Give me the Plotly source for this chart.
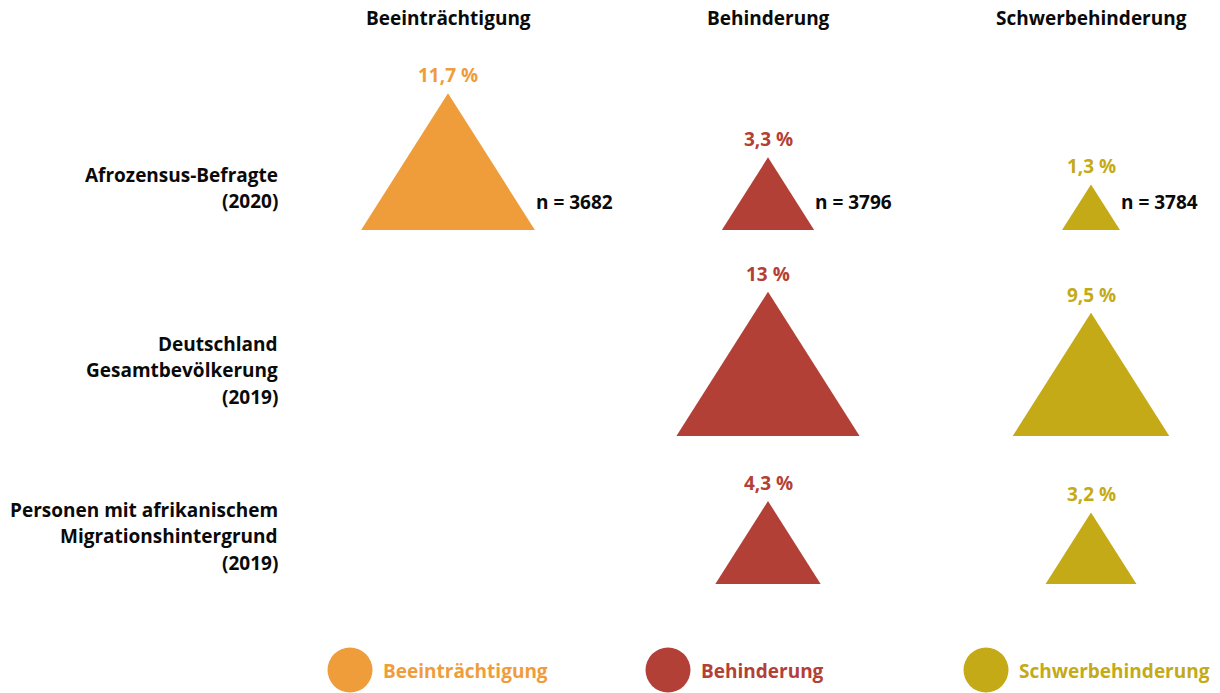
import math
import plotly.graph_objects as go

# ---- data ----
categories = ["Beeinträchtigung", "Behinderung", "Schwerbehinderung"]
groups = [
    ["Afrozensus-Befragte", "(2020)"],
    ["Deutschland", "Gesamtbevölkerung", "(2019)"],
    ["Personen mit afrikanischem", "Migrationshintergrund", "(2019)"],
]
values = [
    [11.7, 3.3, 1.3],
    [None, 13.0, 9.5],
    [None, 4.3, 3.2],
]
value_labels = [
    ["11,7 %", "3,3 %", "1,3 %"],
    [None, "13 %", "9,5 %"],
    [None, "4,3 %", "3,2 %"],
]
sample_sizes = ["n = 3682", "n = 3796", "n = 3784"]
colors = ["#EF9D3A", "#B34036", "#C4AA17"]

# ---- layout parameters ----
W, H = 1220, 693
col_x = [448, 768, 1091]
row_base = [230, 436, 584]
row_label_center = [188, 370, 536]
scale = 40.0          # height = scale * sqrt(value)  (area ∝ value)
aspect = 1.27         # width / height
FONT = "Open Sans"
FS = 19

fig = go.Figure()
ann = []

for r, row in enumerate(values):
    for c, v in enumerate(row):
        if v is None:
            continue
        h = scale * math.sqrt(v)
        w = aspect * h
        cx, by = col_x[c], row_base[r]
        fig.add_trace(go.Scatter(
            x=[cx - w / 2, cx, cx + w / 2, cx - w / 2],
            y=[by, by - h, by, by],
            mode="lines", fill="toself", fillcolor=colors[c],
            line=dict(width=0, color=colors[c]),
            hoverinfo="skip", showlegend=False))
        ann.append(dict(x=cx, y=by - h - 18, text=f"<b>{value_labels[r][c]}</b>",
                        showarrow=False, xanchor="center", yanchor="middle",
                        font=dict(family=FONT, size=FS, color=colors[c])))
        if r == 0:
            ann.append(dict(x=cx + w / 2 - 1, y=by - 28, text=f"<b>{sample_sizes[c]}</b>",
                            showarrow=False, xanchor="left", yanchor="middle",
                            font=dict(family=FONT, size=FS, color="#0a0a0a")))

# column headers
for c, name in enumerate(categories):
    ann.append(dict(x=col_x[c], y=18, text=f"<b>{name}</b>", showarrow=False,
                    xanchor="center", yanchor="middle",
                    font=dict(family=FONT, size=FS, color="#0a0a0a")))

# row labels
for r, lines in enumerate(groups):
    n = len(lines)
    for i, line in enumerate(lines):
        y = row_label_center[r] + (i - (n - 1) / 2) * 26.5
        ann.append(dict(x=280, y=y, text=f"<b>{line}</b>", showarrow=False,
                        xanchor="right", yanchor="middle",
                        font=dict(family=FONT, size=FS, color="#0a0a0a")))

# legend
leg_x = [350, 668, 986]
for c, name in enumerate(categories):
    fig.add_trace(go.Scatter(x=[leg_x[c]], y=[670], mode="markers",
                             marker=dict(size=45, color=colors[c], line=dict(width=0)),
                             hoverinfo="skip", showlegend=False))
    ann.append(dict(x=leg_x[c] + 31, y=671, text=f"<b>{name}</b>", showarrow=False,
                    xanchor="left", yanchor="middle",
                    font=dict(family=FONT, size=FS, color=colors[c])))

fig.update_layout(
    width=W, height=H, margin=dict(l=0, r=0, t=0, b=0),
    paper_bgcolor="white", plot_bgcolor="white",
    xaxis=dict(range=[0, W], visible=False, fixedrange=True),
    yaxis=dict(range=[H, 0], visible=False, fixedrange=True),
    annotations=ann, showlegend=False,
)
fig.write_html("out.html", config={"displayModeBar": False},
               post_script="document.body.style.margin='0px';")
